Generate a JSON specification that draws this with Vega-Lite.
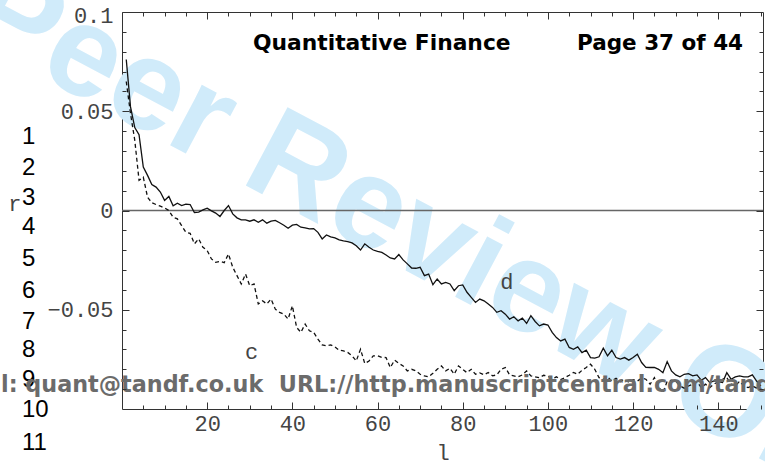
{
  "$schema": "https://vega.github.io/schema/vega-lite/v6.json",
  "width": 641,
  "height": 397,
  "autosize": {"type": "none"},
  "padding": {"left": 122, "top": 12, "right": 2, "bottom": 58},
  "background": "white",
  "config": {
    "view": {"stroke": "#333", "strokeWidth": 1},
    "axis": {
      "grid": false,
      "domain": false,
      "labelFont": "Liberation Mono",
      "labelFontSize": 22,
      "labelColor": "#444",
      "labelFlush": false,
      "tickColor": "#333",
      "tickWidth": 1,
      "titleFont": "Liberation Mono",
      "titleFontWeight": "normal",
      "titleFontSize": 22,
      "titleColor": "#444"
    }
  },
  "datasets": {
    "corr": [
      {"l":1,"d":0.0761,"c":0.0650},{"l":2,"d":0.0522,"c":0.0488},{"l":3,"d":0.0418,"c":0.0354},{"l":4,"d":0.0382,"c":0.0152},{"l":5,"d":0.0219,"c":0.0168},
      {"l":6,"d":0.0177,"c":0.0067},{"l":7,"d":0.0131,"c":0.0039},{"l":8,"d":0.0118,"c":0.0030},{"l":9,"d":0.0093,"c":0.0022},{"l":10,"d":0.0051,"c":0.0013},
      {"l":11,"d":0.0071,"c":0.0000},{"l":12,"d":0.0024,"c":-0.0034},{"l":13,"d":0.0037,"c":-0.0042},{"l":14,"d":0.0025,"c":-0.0076},{"l":15,"d":0.0032,"c":-0.0110},
      {"l":16,"d":0.0030,"c":-0.0115},{"l":17,"d":-0.0010,"c":-0.0168},{"l":18,"d":-0.0008,"c":-0.0143},{"l":19,"d":0.0003,"c":-0.0185},{"l":20,"d":0.0012,"c":-0.0202},
      {"l":21,"d":-0.0002,"c":-0.0244},{"l":22,"d":-0.0013,"c":-0.0261},{"l":23,"d":-0.0030,"c":-0.0256},{"l":24,"d":0.0000,"c":-0.0263},{"l":25,"d":0.0025,"c":-0.0219},
      {"l":26,"d":-0.0017,"c":-0.0286},{"l":27,"d":-0.0037,"c":-0.0328},{"l":28,"d":-0.0047,"c":-0.0370},{"l":29,"d":-0.0047,"c":-0.0320},{"l":30,"d":-0.0054,"c":-0.0379},
      {"l":31,"d":-0.0047,"c":-0.0370},{"l":32,"d":-0.0059,"c":-0.0471},{"l":33,"d":-0.0047,"c":-0.0455},{"l":34,"d":-0.0064,"c":-0.0471},{"l":35,"d":-0.0054,"c":-0.0446},
      {"l":36,"d":-0.0050,"c":-0.0497},{"l":37,"d":-0.0062,"c":-0.0513},{"l":38,"d":-0.0074,"c":-0.0522},{"l":39,"d":-0.0089,"c":-0.0547},{"l":40,"d":-0.0074,"c":-0.0480},
      {"l":41,"d":-0.0070,"c":-0.0589},{"l":42,"d":-0.0084,"c":-0.0614},{"l":43,"d":-0.0087,"c":-0.0572},{"l":44,"d":-0.0093,"c":-0.0606},{"l":45,"d":-0.0091,"c":-0.0614},
      {"l":46,"d":-0.0110,"c":-0.0648},{"l":47,"d":-0.0143,"c":-0.0677},{"l":48,"d":-0.0123,"c":-0.0682},{"l":49,"d":-0.0133,"c":-0.0677},{"l":50,"d":-0.0138,"c":-0.0687},
      {"l":51,"d":-0.0148,"c":-0.0704},{"l":52,"d":-0.0153,"c":-0.0707},{"l":53,"d":-0.0157,"c":-0.0715},{"l":54,"d":-0.0163,"c":-0.0732},{"l":55,"d":-0.0178,"c":-0.0758},
      {"l":56,"d":-0.0199,"c":-0.0699},{"l":57,"d":-0.0168,"c":-0.0771},{"l":58,"d":-0.0185,"c":-0.0758},{"l":59,"d":-0.0199,"c":-0.0732},{"l":60,"d":-0.0206,"c":-0.0732},
      {"l":61,"d":-0.0211,"c":-0.0740},{"l":62,"d":-0.0224,"c":-0.0741},{"l":63,"d":-0.0239,"c":-0.0791},{"l":64,"d":-0.0244,"c":-0.0754},{"l":65,"d":-0.0222,"c":-0.0770},
      {"l":66,"d":-0.0249,"c":-0.0783},{"l":67,"d":-0.0269,"c":-0.0808},{"l":68,"d":-0.0290,"c":-0.0800},{"l":69,"d":-0.0291,"c":-0.0808},{"l":70,"d":-0.0286,"c":-0.0825},
      {"l":71,"d":-0.0328,"c":-0.0833},{"l":72,"d":-0.0320,"c":-0.0838},{"l":73,"d":-0.0374,"c":-0.0820},{"l":74,"d":-0.0345,"c":-0.0800},{"l":75,"d":-0.0370,"c":-0.0783},
      {"l":76,"d":-0.0362,"c":-0.0808},{"l":77,"d":-0.0370,"c":-0.0795},{"l":78,"d":-0.0404,"c":-0.0825},{"l":79,"d":-0.0379,"c":-0.0783},{"l":80,"d":-0.0375,"c":-0.0800},
      {"l":81,"d":-0.0412,"c":-0.0817},{"l":82,"d":-0.0438,"c":-0.0800},{"l":83,"d":-0.0463,"c":-0.0825},{"l":84,"d":-0.0446,"c":-0.0818},{"l":85,"d":-0.0455,"c":-0.0828},
      {"l":86,"d":-0.0471,"c":-0.0816},{"l":87,"d":-0.0488,"c":-0.0833},{"l":88,"d":-0.0513,"c":-0.0828},{"l":89,"d":-0.0505,"c":-0.0800},{"l":90,"d":-0.0522,"c":-0.0791},
      {"l":91,"d":-0.0547,"c":-0.0828},{"l":92,"d":-0.0535,"c":-0.0833},{"l":93,"d":-0.0556,"c":-0.0838},{"l":94,"d":-0.0542,"c":-0.0828},{"l":95,"d":-0.0569,"c":-0.0808},
      {"l":96,"d":-0.0530,"c":-0.0833},{"l":97,"d":-0.0559,"c":-0.0838},{"l":98,"d":-0.0581,"c":-0.0842},{"l":99,"d":-0.0572,"c":-0.0830},{"l":100,"d":-0.0577,"c":-0.0835},
      {"l":101,"d":-0.0614,"c":-0.0848},{"l":102,"d":-0.0640,"c":-0.0838},{"l":103,"d":-0.0657,"c":-0.0852},{"l":104,"d":-0.0648,"c":-0.0842},{"l":105,"d":-0.0690,"c":-0.0830},
      {"l":106,"d":-0.0699,"c":-0.0816},{"l":107,"d":-0.0687,"c":-0.0825},{"l":108,"d":-0.0716,"c":-0.0805},{"l":109,"d":-0.0704,"c":-0.0791},{"l":110,"d":-0.0741,"c":-0.0774},
      {"l":111,"d":-0.0744,"c":-0.0800},{"l":112,"d":-0.0737,"c":-0.0842},{"l":113,"d":-0.0694,"c":-0.0850},{"l":114,"d":-0.0732,"c":-0.0838},{"l":115,"d":-0.0704,"c":-0.0859},
      {"l":116,"d":-0.0741,"c":-0.0845},{"l":117,"d":-0.0749,"c":-0.0862},{"l":118,"d":-0.0741,"c":-0.0850},{"l":119,"d":-0.0754,"c":-0.0866},{"l":120,"d":-0.0741,"c":-0.0852},
      {"l":121,"d":-0.0724,"c":-0.0859},{"l":122,"d":-0.0766,"c":-0.0845},{"l":123,"d":-0.0790,"c":-0.0850},{"l":124,"d":-0.0791,"c":-0.0875},{"l":125,"d":-0.0791,"c":-0.0842},
      {"l":126,"d":-0.0800,"c":-0.0890},{"l":127,"d":-0.0817,"c":-0.0918},{"l":128,"d":-0.0761,"c":-0.0860},{"l":129,"d":-0.0808,"c":-0.0855},{"l":130,"d":-0.0828,"c":-0.0859},
      {"l":131,"d":-0.0838,"c":-0.0884},{"l":132,"d":-0.0825,"c":-0.0895},{"l":133,"d":-0.0822,"c":-0.0884},{"l":134,"d":-0.0833,"c":-0.0875},{"l":135,"d":-0.0828,"c":-0.0862},
      {"l":136,"d":-0.0855,"c":-0.0892},{"l":137,"d":-0.0842,"c":-0.0875},{"l":138,"d":-0.0867,"c":-0.0892},{"l":139,"d":-0.0859,"c":-0.0875},{"l":140,"d":-0.0862,"c":-0.0862},
      {"l":141,"d":-0.0867,"c":-0.0850},{"l":142,"d":-0.0817,"c":-0.0842},{"l":143,"d":-0.0850,"c":-0.0875},{"l":144,"d":-0.0838,"c":-0.0884},{"l":145,"d":-0.0833,"c":-0.0860},
      {"l":146,"d":-0.0838,"c":-0.0884},{"l":147,"d":-0.0838,"c":-0.0892},{"l":148,"d":-0.0828,"c":-0.0884},{"l":149,"d":-0.0859,"c":-0.0895},{"l":150,"d":-0.0884,"c":-0.0909}
    ],
    "numbers": [
      {"n":"1","l":-23.5,"r":0.0370},{"n":"2","l":-23.5,"r":0.0214},{"n":"3","l":-23.5,"r":0.0063},{"n":"4","l":-23.5,"r":-0.0083},
      {"n":"5","l":-23.5,"r":-0.0244},{"n":"6","l":-23.5,"r":-0.0406},{"n":"7","l":-23.5,"r":-0.0562},{"n":"8","l":-23.5,"r":-0.0703},
      {"n":"9","l":-23.5,"r":-0.0854},{"n":"10","l":-23.5,"r":-0.1005},{"n":"11","l":-23.5,"r":-0.1171}
    ]
  },
  "resolve": {"axis": {"x": "independent", "y": "independent"}},
  "layer": [
    {
      "data": {"values": [{}]},
      "mark": {"type": "text", "text": "Peer Review Only", "font": "Liberation Sans", "fontWeight": "bold", "fontSize": 129, "angle": 28, "align": "center", "baseline": "middle", "color": "#d0ebfa"},
      "encoding": {
        "x": {"datum": 78.4, "type": "quantitative", "scale": {"domain": [0, 150.5], "nice": false, "zero": false}, "axis": null},
        "y": {"datum": -0.0214, "type": "quantitative", "scale": {"domain": [-0.1, 0.1], "nice": false, "zero": false}, "axis": null}
      }
    },
    {
      "data": {"values": [{}]},
      "mark": {"type": "rule", "color": "#666", "strokeWidth": 1.5},
      "encoding": {
        "y": {"datum": 0, "type": "quantitative", "scale": {"domain": [-0.1, 0.1], "nice": false, "zero": false}, "axis": null}
      }
    },
    {
      "data": {"name": "corr"},
      "mark": {"type": "line", "color": "#111", "strokeWidth": 1.3},
      "encoding": {
        "x": {"field": "l", "type": "quantitative", "scale": {"domain": [0, 150.5], "nice": false, "zero": false},
              "axis": {"orient": "bottom", "zindex": 1, "values": [20, 40, 60, 80, 100, 120, 140], "tickSize": -7, "labelPadding": 11, "title": "l", "titlePadding": 8}},
        "y": {"field": "d", "type": "quantitative", "scale": {"domain": [-0.1, 0.1], "nice": false, "zero": false},
              "axis": {"orient": "left", "zindex": 1, "values": [-0.05, 0, 0.05, 0.1], "format": "~g", "tickSize": -7, "labelPadding": 16,
                       "labelOffset": {"condition": {"test": "datum.value > 0.09", "value": 3}, "value": 0},
                       "title": "r", "titleAngle": 0, "titleAlign": "right", "titleBaseline": "alphabetic", "titlePadding": 26}}
      }
    },
    {
      "data": {"name": "corr"},
      "mark": {"type": "line", "color": "#111", "strokeWidth": 1.3, "strokeDash": [4, 3]},
      "encoding": {
        "x": {"field": "l", "type": "quantitative", "scale": {"domain": [0, 150.5], "nice": false, "zero": false},
              "axis": {"orient": "bottom", "zindex": 1, "values": [5, 10, 15, 25, 30, 35, 45, 50, 55, 65, 70, 75, 85, 90, 95, 105, 110, 115, 125, 130, 135, 145, 150], "tickSize": -4, "labels": false, "title": null}},
        "y": {"field": "c", "type": "quantitative", "scale": {"domain": [-0.1, 0.1], "nice": false, "zero": false},
              "axis": {"orient": "left", "zindex": 1, "values": [-0.09, -0.08, -0.07, -0.06, -0.04, -0.03, -0.02, -0.01, 0.01, 0.02, 0.03, 0.04, 0.06, 0.07, 0.08, 0.09], "tickSize": -4, "labels": false, "title": null}}
      }
    },
    {
      "data": {"name": "corr"},
      "mark": {"type": "point", "opacity": 0},
      "encoding": {
        "x": {"field": "l", "type": "quantitative", "scale": {"domain": [0, 150.5], "nice": false, "zero": false},
              "axis": {"orient": "top", "zindex": 1, "values": [20, 40, 60, 80, 100, 120, 140], "tickSize": -7, "labels": false, "title": null}},
        "y": {"field": "d", "type": "quantitative", "scale": {"domain": [-0.1, 0.1], "nice": false, "zero": false},
              "axis": {"orient": "right", "zindex": 1, "values": [-0.05, 0, 0.05], "tickSize": -7, "labels": false, "title": null}}
      }
    },
    {
      "data": {"name": "corr"},
      "mark": {"type": "point", "opacity": 0},
      "encoding": {
        "x": {"field": "l", "type": "quantitative", "scale": {"domain": [0, 150.5], "nice": false, "zero": false},
              "axis": {"orient": "top", "zindex": 1, "values": [5, 10, 15, 25, 30, 35, 45, 50, 55, 65, 70, 75, 85, 90, 95, 105, 110, 115, 125, 130, 135, 145, 150], "tickSize": -4, "labels": false, "title": null}},
        "y": {"field": "c", "type": "quantitative", "scale": {"domain": [-0.1, 0.1], "nice": false, "zero": false},
              "axis": {"orient": "right", "zindex": 1, "values": [-0.09, -0.08, -0.07, -0.06, -0.04, -0.03, -0.02, -0.01, 0.01, 0.02, 0.03, 0.04, 0.06, 0.07, 0.08, 0.09], "tickSize": -4, "labels": false, "title": null}}
      }
    },
    {
      "data": {"values": [{}]},
      "mark": {"type": "text", "text": "c", "font": "Liberation Mono", "fontSize": 22, "color": "#444", "align": "center", "baseline": "middle"},
      "encoding": {
        "x": {"datum": 30.45, "type": "quantitative", "scale": {"domain": [0, 150.5], "nice": false, "zero": false}, "axis": null},
        "y": {"datum": -0.0711, "type": "quantitative", "scale": {"domain": [-0.1, 0.1], "nice": false, "zero": false}, "axis": null}
      }
    },
    {
      "data": {"values": [{}]},
      "mark": {"type": "text", "text": "d", "font": "Liberation Mono", "fontSize": 22, "color": "#444", "align": "center", "baseline": "middle"},
      "encoding": {
        "x": {"datum": 90.33, "type": "quantitative", "scale": {"domain": [0, 150.5], "nice": false, "zero": false}, "axis": null},
        "y": {"datum": -0.0359, "type": "quantitative", "scale": {"domain": [-0.1, 0.1], "nice": false, "zero": false}, "axis": null}
      }
    },
    {
      "data": {"values": [{}]},
      "mark": {"type": "text", "text": "Quantitative Finance", "font": "DejaVu Sans", "fontWeight": "bold", "fontSize": 21.8, "color": "#000", "align": "left", "baseline": "alphabetic"},
      "encoding": {
        "x": {"datum": 30.76, "type": "quantitative", "scale": {"domain": [0, 150.5], "nice": false, "zero": false}, "axis": null},
        "y": {"datum": 0.0809, "type": "quantitative", "scale": {"domain": [-0.1, 0.1], "nice": false, "zero": false}, "axis": null}
      }
    },
    {
      "data": {"values": [{}]},
      "mark": {"type": "text", "text": "Page 37 of 44", "font": "DejaVu Sans", "fontWeight": "bold", "fontSize": 21.5, "color": "#000", "align": "left", "baseline": "alphabetic"},
      "encoding": {
        "x": {"datum": 106.83, "type": "quantitative", "scale": {"domain": [0, 150.5], "nice": false, "zero": false}, "axis": null},
        "y": {"datum": 0.0809, "type": "quantitative", "scale": {"domain": [-0.1, 0.1], "nice": false, "zero": false}, "axis": null}
      }
    },
    {
      "data": {"name": "numbers"},
      "mark": {"type": "text", "font": "Liberation Sans", "fontSize": 24, "color": "#000", "align": "left", "baseline": "middle"},
      "encoding": {
        "x": {"field": "l", "type": "quantitative", "scale": {"domain": [0, 150.5], "nice": false, "zero": false}, "axis": null},
        "y": {"field": "r", "type": "quantitative", "scale": {"domain": [-0.1, 0.1], "nice": false, "zero": false}, "axis": null},
        "text": {"field": "n"}
      }
    },
    {
      "data": {"values": [{}]},
      "mark": {"type": "text", "text": "l: quant@tandf.co.uk\u00a0\u00a0URL://http.manuscriptcentral.com/tandf", "font": "DejaVu Sans", "fontWeight": "bold", "fontSize": 22.3, "color": "#6b6b6b", "align": "left", "baseline": "alphabetic"},
      "encoding": {
        "x": {"datum": -28.4, "type": "quantitative", "scale": {"domain": [0, 150.5], "nice": false, "zero": false}, "axis": null},
        "y": {"datum": -0.0914, "type": "quantitative", "scale": {"domain": [-0.1, 0.1], "nice": false, "zero": false}, "axis": null}
      }
    }
  ]
}
